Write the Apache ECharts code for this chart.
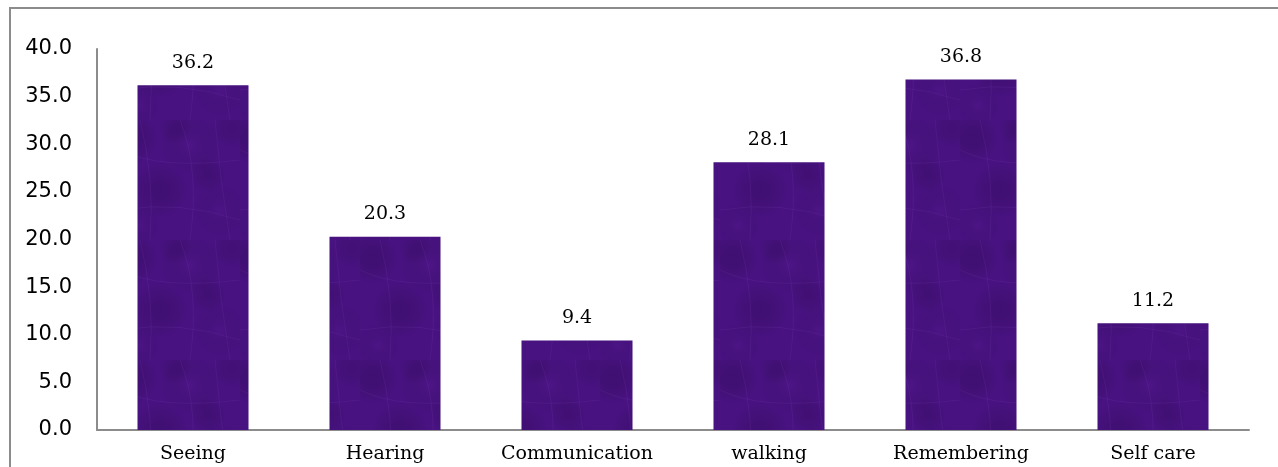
<!DOCTYPE html>
<html>
<head>
<meta charset="utf-8">
<script src="https://cdn.jsdelivr.net/npm/echarts@6/dist/echarts.min.js"></script>
<style>
html,body{margin:0;padding:0;background:#fff;}
#c{width:1278px;height:467px;}
</style>
</head>
<body>
<div id="c"></div>
<script>
var categories = ['Seeing', 'Hearing', 'Communication', 'walking', 'Remembering', 'Self care'];
var values = [36.2, 20.3, 9.4, 28.1, 36.8, 11.2];
var yTicks = [0, 5, 10, 15, 20, 25, 30, 35, 40];

// mottled purple texture (style only, deterministic)
function makeTexture() {
  var cv = document.createElement('canvas');
  cv.width = 120; cv.height = 120;
  var ctx = cv.getContext('2d');
  ctx.fillStyle = '#481281';
  ctx.fillRect(0, 0, 120, 120);
  var spots = [
    [12, 18, 26, 'rgba(35,6,60,0.22)'], [70, 25, 30, 'rgba(100,35,160,0.18)'],
    [40, 70, 28, 'rgba(35,6,60,0.20)'], [100, 90, 26, 'rgba(100,35,160,0.16)'],
    [18, 105, 22, 'rgba(100,35,160,0.16)'], [88, 55, 18, 'rgba(35,6,60,0.18)'],
    [55, 8, 16, 'rgba(35,6,60,0.16)'], [112, 8, 20, 'rgba(35,6,60,0.16)']
  ];
  spots.forEach(function (s) {
    var g = ctx.createRadialGradient(s[0], s[1], 0, s[0], s[1], s[2]);
    g.addColorStop(0, s[3]);
    g.addColorStop(1, 'rgba(0,0,0,0)');
    ctx.fillStyle = g;
    ctx.fillRect(0, 0, 120, 120);
  });
  ctx.strokeStyle = 'rgba(120,60,170,0.18)';
  ctx.lineWidth = 1;
  var lines = [[0, 30, 40, 50, 120, 40], [20, 0, 35, 60, 30, 120], [60, 0, 80, 50, 70, 120], [0, 90, 60, 80, 120, 100], [95, 0, 100, 60, 110, 120]];
  lines.forEach(function (l) {
    ctx.beginPath(); ctx.moveTo(l[0], l[1]); ctx.quadraticCurveTo(l[2], l[3], l[4], l[5]); ctx.stroke();
  });
  return cv;
}

var chart = echarts.init(document.getElementById('c'));
chart.setOption({
  animation: false,
  backgroundColor: '#fff',
  graphic: [{
    type: 'rect',
    shape: { x: 10, y: 8, width: 1290, height: 480 },
    style: { fill: 'none', stroke: '#8c8c8c', lineWidth: 2 },
    silent: true
  }],
  grid: { left: 97, right: 29, top: 49, bottom: 37 },
  xAxis: {
    type: 'category',
    data: categories,
    axisLine: { lineStyle: { color: '#8c8c8c', width: 2 } },
    axisTick: { show: false },
    axisLabel: { color: '#000', fontFamily: 'DejaVu Serif', fontSize: 19, margin: 15, interval: 0, hideOverlap: false }
  },
  yAxis: {
    type: 'value',
    min: 0, max: 40, interval: 5,
    axisLine: { show: true, lineStyle: { color: '#8c8c8c', width: 2 } },
    axisTick: { show: false },
    splitLine: { show: false },
    axisLabel: {
      color: '#000', fontFamily: 'DejaVu Sans', fontSize: 21, margin: 25,
      formatter: function (v) { return yTicks.indexOf(v) >= 0 ? v.toFixed(1) : ''; }
    }
  },
  series: [{
    type: 'bar',
    data: values,
    barWidth: 111,
    itemStyle: { color: { image: makeTexture(), repeat: 'repeat' } },
    label: {
      show: true, position: 'top', distance: 13,
      color: '#000', fontFamily: 'DejaVu Serif', fontSize: 19,
      formatter: function (p) { return p.value.toFixed(1); }
    }
  }]
});
</script>
</body>
</html>
